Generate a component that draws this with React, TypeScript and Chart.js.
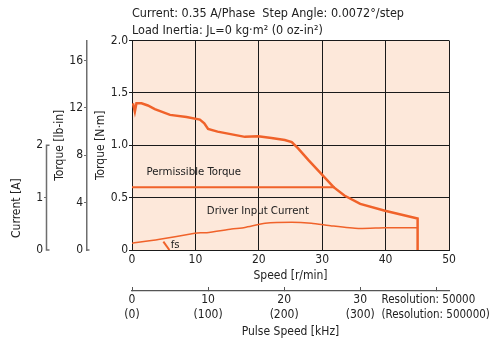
import { useEffect, useRef } from 'react';
import { Chart, registerables } from 'chart.js';

Chart.register(...registerables);

// ---------- data ----------
const titleLines = [
  'Current: 0.35 A/Phase  Step Angle: 0.0072°/step',
  'Load Inertia: J\u029F=0 kg·m² (0 oz-in²)',
];

const torqueSpeed = [0.15, 0.45, 0.7, 1.5, 2.5, 3.6, 6.0, 8.6, 10.7, 11.4, 12.0, 13.5, 17.8, 19.9, 22.0, 24.1, 25.2, 26.2, 27.8, 31.8, 33.5, 36.0, 39.9, 45.05, 45.05];
const torqueNm = [1.40, 1.32, 1.40, 1.40, 1.38, 1.345, 1.29, 1.27, 1.245, 1.21, 1.155, 1.13, 1.08, 1.085, 1.07, 1.05, 1.03, 0.97, 0.86, 0.60, 0.52, 0.44, 0.375, 0.30, 0];

const permSpeed = [0, 32];
const permNm = [0.6, 0.6];

const currentSpeed = [0, 4.15, 9.9, 10.8, 11.8, 15.7, 17.8, 21.0, 25.2, 28.3, 31.5, 35.7, 39.9, 45.05];
const currentA = [0.13, 0.20, 0.32, 0.33, 0.33, 0.40, 0.43, 0.51, 0.53, 0.51, 0.46, 0.41, 0.425, 0.425];

const fsSpeed = [4.95, 5.9];
const fsNm = [0.08, 0];

const speedTicks = [0, 10, 20, 30, 40, 50];
const nmTicks = [0, 0.5, 1.0, 1.5, 2.0];
const lbinTicks = [0, 4, 8, 12, 16];
const currentTicks = [0, 1, 2];
const pulseTicks = [0, 10, 20, 30, 40];
const pulseLabels: (string | string[])[] = [['0', '(0)'], ['10', '(100)'], ['20', '(200)'], ['30', '(300)'], ''];
const resolutionLines = ['Resolution: 50000', '(Resolution: 500000)'];

const SPEED_MAX = 50;
const NM_MAX = 2;
const LBIN_MAX = 2 * 8.8507;
const CURRENT_MAX = 4;
const PULSE_MAX = (50 * 50000) / 60 / 1000;

// ---------- style ----------
const FONT = "'DejaVu Sans Condensed', 'Liberation Sans Narrow', 'Arial Narrow', sans-serif";
const BG = '#fde8da';
const ORANGE = '#f0622a';
const GRID = '#1a1a1a';
const GREY = '#6e6e6e';
const TEXT = '#222';

const pts = (xs: number[], ys: number[]) => xs.map((x, i) => ({ x, y: ys[i] }));

const decor = {
  id: 'decor',
  beforeDraw(chart: any) {
    const { ctx, chartArea: a } = chart;
    ctx.save();
    ctx.fillStyle = BG;
    ctx.fillRect(a.left, a.top, a.right - a.left, a.bottom - a.top);
    ctx.restore();
  },
  afterDraw(chart: any) {
    const { ctx } = chart;
    const s = chart.scales;
    ctx.save();
    // current axis bracket
    const c = s.yCur;
    const cx = Math.round(c.right) - 0.5;
    const c0 = c.getPixelForValue(0);
    const c2 = c.getPixelForValue(2);
    ctx.strokeStyle = GREY;
    ctx.lineWidth = 1.5;
    ctx.beginPath();
    ctx.moveTo(cx + 3, c2);
    ctx.lineTo(cx, c2);
    ctx.lineTo(cx, c0);
    ctx.lineTo(cx + 3, c0);
    ctx.stroke();
    // lb-in bottom hook
    const l = s.yLb;
    const lx = Math.round(l.right) - 0.5;
    const l0 = l.getPixelForValue(0);
    ctx.beginPath();
    ctx.moveTo(lx, l0);
    ctx.lineTo(lx + 3, l0);
    ctx.stroke();

    ctx.fillStyle = TEXT;
    ctx.textBaseline = 'middle';
    // current title
    ctx.font = `12px ${FONT}`;
    ctx.save();
    ctx.translate(17, c.getPixelForValue(0.8));
    ctx.rotate(-Math.PI / 2);
    ctx.textAlign = 'center';
    ctx.fillText('Current [A]', 0, 0);
    ctx.restore();

    // annotations
    const x = s.x;
    const y = s.y;
    ctx.textAlign = 'left';
    ctx.font = `11.3px ${FONT}`;
    ctx.fillText('Permissible Torque', x.getPixelForValue(2.3), y.getPixelForValue(0.745));
    ctx.fillText('Driver Input Current', x.getPixelForValue(11.8), y.getPixelForValue(0.371));
    ctx.fillText('fs', x.getPixelForValue(6.1), y.getPixelForValue(0.05));

    // resolution note
    ctx.font = `11.5px ${FONT}`;
    const p = s.xPulse;
    const rx = p.getPixelForValue(32.8);
    ctx.fillText(resolutionLines[0], rx, p.top + 9.2);
    ctx.fillText(resolutionLines[1], rx, p.top + 23.6);
    ctx.restore();
  },
};

export default function App() {
  const ref = useRef<HTMLCanvasElement>(null);

  useEffect(() => {
    document.body.style.margin = '0';
    Chart.defaults.font.family = FONT;
    Chart.defaults.font.size = 12;
    Chart.defaults.color = TEXT;

    const chart = new Chart(ref.current as HTMLCanvasElement, {
      type: 'line',
      data: {
        datasets: [
          {
            data: pts(torqueSpeed, torqueNm),
            xAxisID: 'x',
            yAxisID: 'y',
            borderColor: ORANGE,
            borderWidth: 2.5,
            pointRadius: 0,
            tension: 0,
            fill: false,
          },
          {
            data: pts(permSpeed, permNm),
            xAxisID: 'x',
            yAxisID: 'y',
            borderColor: ORANGE,
            borderWidth: 2,
            pointRadius: 0,
            fill: false,
          },
          {
            data: pts(currentSpeed, currentA),
            xAxisID: 'x',
            yAxisID: 'yCur',
            borderColor: ORANGE,
            borderWidth: 1.5,
            pointRadius: 0,
            tension: 0.2,
            fill: false,
          },
          {
            data: pts(fsSpeed, fsNm),
            xAxisID: 'x',
            yAxisID: 'y',
            borderColor: ORANGE,
            borderWidth: 2,
            pointRadius: 0,
            fill: false,
          },
        ],
      },
      options: {
        responsive: false,
        animation: false,
        devicePixelRatio: 1,
        layout: { padding: { left: 0, right: 41, top: 0, bottom: 0 } },
        plugins: {
          legend: { display: false },
          tooltip: { enabled: false },
          title: {
            display: true,
            text: titleLines,
            align: 'start',
            fullSize: false,
            color: TEXT,
            font: { size: 12.5, weight: 'normal', lineHeight: 1.3 },
            padding: { top: 6, bottom: 2 },
          },
        },
        scales: {
          x: {
            type: 'linear',
            position: 'bottom',
            weight: 0,
            min: 0,
            max: SPEED_MAX,
            afterBuildTicks: (sc: any) => { sc.ticks = speedTicks.map((v) => ({ value: v })); },
            afterFit: (sc: any) => { sc.height = 41; },
            grid: { color: GRID, lineWidth: 1, drawTicks: false },
            border: { color: GRID, width: 1 },
            ticks: { autoSkip: false, maxRotation: 0, padding: 3, color: TEXT, font: { size: 12, lineHeight: 1.1 } },
            title: { display: true, text: 'Speed [r/min]', color: TEXT, font: { size: 12, lineHeight: 1.2 }, padding: { top: 0, bottom: 8 } },
          },
          xPulse: {
            type: 'linear',
            position: 'bottom',
            weight: 1,
            min: 0,
            max: PULSE_MAX,
            afterBuildTicks: (sc: any) => { sc.ticks = pulseTicks.map((v) => ({ value: v })); },
            afterFit: (sc: any) => { sc.height = 52; },
            grid: { drawOnChartArea: false, drawTicks: true, tickLength: -4, color: '#555', tickColor: '#555', lineWidth: 1 },
            border: { color: '#555', width: 1.2 },
            ticks: {
              autoSkip: false,
              maxRotation: 0,
              padding: 6,
              color: TEXT,
              font: { size: 12, lineHeight: 1.2 },
              callback: (v: any) => {
                const i = pulseTicks.indexOf(Number(v));
                return i >= 0 ? pulseLabels[i] : '';
              },
            },
            title: { display: true, text: 'Pulse Speed [kHz]', color: TEXT, font: { size: 12, lineHeight: 1.2 }, padding: { top: 0, bottom: 4 } },
          },
          y: {
            type: 'linear',
            position: 'left',
            weight: 0,
            min: 0,
            max: NM_MAX,
            afterBuildTicks: (sc: any) => { sc.ticks = nmTicks.map((v) => ({ value: v })); },
            afterFit: (sc: any) => { sc.width = 45; },
            grid: { color: GRID, lineWidth: 1, tickLength: 3 },
            border: { color: GRID, width: 1 },
            ticks: {
              padding: 1,
              color: TEXT,
              font: { size: 12 },
              callback: (v: any) => (Number(v) === 0 ? '0' : Number(v).toFixed(1)),
            },
            title: { display: true, text: 'Torque [N·m]', color: TEXT, font: { size: 12, lineHeight: 1.2 }, padding: { top: 7, bottom: 0 } },
          },
          yLb: {
            type: 'linear',
            position: 'left',
            weight: 1,
            min: 0,
            max: LBIN_MAX,
            afterBuildTicks: (sc: any) => { sc.ticks = lbinTicks.map((v) => ({ value: v })); },
            afterFit: (sc: any) => { sc.width = 40; },
            grid: {
              drawOnChartArea: false,
              tickLength: 3,
              color: GREY,
              tickColor: (ctx: any) => (ctx.tick && ctx.tick.value === 0 ? 'rgba(0,0,0,0)' : GREY),
            },
            border: { color: GREY, width: 1.5 },
            ticks: { padding: 1, color: TEXT, font: { size: 12 } },
            title: { display: true, text: 'Torque [lb-in]', color: TEXT, font: { size: 12, lineHeight: 1.2 }, padding: { top: 6, bottom: 0 } },
          },
          yCur: {
            type: 'linear',
            position: 'left',
            weight: 2,
            min: 0,
            max: CURRENT_MAX,
            afterBuildTicks: (sc: any) => { sc.ticks = currentTicks.map((v) => ({ value: v })); },
            afterFit: (sc: any) => { sc.width = 47; },
            grid: {
              drawOnChartArea: false,
              tickLength: 3,
              color: GREY,
              tickColor: (ctx: any) => (ctx.tick && ctx.tick.value === 1 ? GREY : 'rgba(0,0,0,0)'),
            },
            border: { display: false },
            ticks: { padding: 1, color: TEXT, font: { size: 12 } },
          },
        },
      },
      plugins: [decor],
    } as any);

    return () => chart.destroy();
  }, []);

  return (
    <div style={{ width: 490, height: 343 }}>
      <canvas ref={ref} width={490} height={343} style={{ display: 'block', width: 490, height: 343 }} />
    </div>
  );
}
